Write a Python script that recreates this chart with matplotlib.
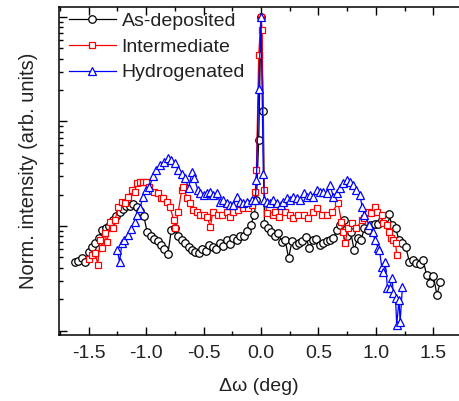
import matplotlib
matplotlib.use("Agg")
import matplotlib.pyplot as plt
from matplotlib.ticker import FixedLocator, NullFormatter, LogLocator, FormatStrFormatter

plt.rcParams['font.family'] = ['Liberation Sans', 'DejaVu Sans']
plt.rcParams['axes.unicode_minus'] = False

# ---------------- data ----------------
x_asdep = [-1.62, -1.59, -1.56, -1.53, -1.50, -1.47, -1.44, -1.41, -1.38, -1.35,
           -1.32, -1.29, -1.26, -1.23, -1.20, -1.17, -1.14, -1.11, -1.08, -1.05,
           -1.02, -0.99, -0.96, -0.93, -0.90, -0.87, -0.84, -0.81, -0.78, -0.75,
           -0.72, -0.69, -0.66, -0.63, -0.60, -0.57, -0.54, -0.51, -0.48, -0.45,
           -0.42, -0.39, -0.36, -0.33, -0.30, -0.27, -0.24, -0.21, -0.18, -0.15,
           -0.12, -0.09, -0.06, -0.04, -0.02, 0.00, 0.02, 0.03, 0.06, 0.09,
           0.12, 0.15, 0.18, 0.21, 0.24, 0.27, 0.30, 0.33, 0.36, 0.39,
           0.42, 0.45, 0.48, 0.51, 0.54, 0.57, 0.60, 0.63, 0.66, 0.69,
           0.72, 0.75, 0.78, 0.81, 0.84, 0.87, 0.90, 0.93, 0.96, 0.99,
           1.02, 1.05, 1.08, 1.11, 1.14, 1.17, 1.20, 1.23, 1.26, 1.29,
           1.32, 1.35, 1.38, 1.41, 1.44, 1.47, 1.50, 1.53, 1.56]
y_asdep = [0.00452, 0.00462, 0.00494, 0.00452, 0.00564, 0.0063, 0.00688, 0.00768, 0.00915, 0.00957,
           0.0100, 0.01141, 0.01247, 0.01362, 0.01455, 0.01554, 0.01554, 0.01624, 0.0152, 0.01392,
           0.01247, 0.00876, 0.00802, 0.00751, 0.00719, 0.00658, 0.00603, 0.0054, 0.00915, 0.00957,
           0.00802, 0.00734, 0.00688, 0.0063, 0.00589, 0.00564, 0.00552, 0.00603, 0.00577, 0.00658,
           0.0063, 0.00603, 0.00688, 0.00644, 0.00734, 0.00673, 0.00768, 0.00734, 0.00802, 0.00802,
           0.00896, 0.01022, 0.01274, 0.01774, 0.0665, 1.0, 0.126, 0.01045, 0.00957, 0.00876,
           0.00802, 0.00857, 0.00703, 0.00734, 0.00494, 0.00719, 0.00658, 0.00688, 0.00719, 0.00785,
           0.00616, 0.00734, 0.00751, 0.00658, 0.00688, 0.00719, 0.00734, 0.00768, 0.00915, 0.01022,
           0.01141, 0.00802, 0.00876, 0.00589, 0.00768, 0.00734, 0.00957, 0.00915, 0.01022, 0.01045,
           0.01045, 0.01141, 0.01193, 0.01303, 0.01022, 0.00957, 0.00734, 0.00688, 0.0063, 0.00452,
           0.00473, 0.00442, 0.00433, 0.00473, 0.0034, 0.00285, 0.00332, 0.00219, 0.00291]

x_inter = [-1.50, -1.47, -1.44, -1.42, -1.40, -1.38, -1.36, -1.34, -1.31, -1.29,
           -1.27, -1.24, -1.21, -1.18, -1.16, -1.12, -1.10, -1.08, -1.05, -1.03,
           -1.00, -0.97, -0.93, -0.90, -0.87, -0.85, -0.82, -0.79, -0.76, -0.75,
           -0.72, -0.69, -0.68, -0.64, -0.62, -0.59, -0.56, -0.53, -0.50, -0.47,
           -0.44, -0.42, -0.37, -0.34, -0.30, -0.27, -0.24, -0.20, -0.16, -0.11,
           -0.08, -0.05, -0.04, -0.02, 0.00, 0.01, 0.025, 0.05, 0.10, 0.12,
           0.16, 0.21, 0.25, 0.28, 0.32, 0.37, 0.41, 0.45, 0.49, 0.53,
           0.57, 0.62, 0.67, 0.70, 0.71, 0.73, 0.76, 0.79, 0.83, 0.88,
           0.90, 0.93, 0.96, 0.99, 1.01, 1.05, 1.06, 1.10, 1.11, 1.13,
           1.15, 1.17, 1.18]
y_inter = [0.00483, 0.00528, 0.00552, 0.00423, 0.00734, 0.00616, 0.00857, 0.00703, 0.01092, 0.00957,
           0.01141, 0.0152, 0.01698, 0.0166, 0.01894, 0.0221, 0.02115, 0.02579, 0.02637, 0.02637,
           0.02637, 0.0236, 0.02115, 0.0207, 0.01853, 0.01853, 0.01698, 0.0152, 0.01141, 0.00957,
           0.01362, 0.0221, 0.0236, 0.01853, 0.0166, 0.01423, 0.01362, 0.01274, 0.01274, 0.0122,
           0.00978, 0.01362, 0.01274, 0.01274, 0.01362, 0.0122, 0.01362, 0.01423, 0.01487, 0.01487,
           0.01588, 0.02115, 0.0344, 0.433, 1.0, 0.751, 0.0221, 0.01332, 0.01274, 0.01362,
           0.0122, 0.01362, 0.01274, 0.01193, 0.01274, 0.01274, 0.01193, 0.01362, 0.01487, 0.01274,
           0.01274, 0.01362, 0.0166, 0.01092, 0.00876, 0.00688, 0.00957, 0.01068, 0.00957, 0.01141,
           0.01193, 0.01362, 0.01332, 0.0152, 0.01362, 0.01274, 0.01068, 0.01022, 0.00876, 0.00768,
           0.00734, 0.00688, 0.00528]

x_hydro = [-1.25, -1.23, -1.21, -1.19, -1.16, -1.13, -1.10, -1.08, -1.05, -1.03,
           -1.00, -0.97, -0.94, -0.91, -0.88, -0.84, -0.81, -0.78, -0.75, -0.72,
           -0.69, -0.66, -0.63, -0.60, -0.58, -0.55, -0.53, -0.50, -0.47, -0.44,
           -0.42, -0.38, -0.36, -0.33, -0.30, -0.27, -0.24, -0.21, -0.18, -0.16,
           -0.12, -0.08, -0.05, -0.04, -0.02, 0.00, 0.02, 0.03, 0.05, 0.08,
           0.10, 0.14, 0.17, 0.19, 0.23, 0.25, 0.28, 0.31, 0.34, 0.37,
           0.40, 0.43, 0.45, 0.49, 0.51, 0.54, 0.57, 0.60, 0.63, 0.66,
           0.69, 0.71, 0.75, 0.77, 0.80, 0.83, 0.86, 0.88, 0.90, 0.94,
           0.97, 0.99, 1.02, 1.03, 1.05, 1.06, 1.08, 1.10, 1.12, 1.14,
           1.15, 1.17, 1.18, 1.20, 1.21, 1.23]
y_hydro = [0.00589, 0.00452, 0.00688, 0.00734, 0.0082, 0.00936, 0.01092, 0.01274, 0.01487, 0.01894,
           0.0221, 0.0236, 0.0301, 0.0344, 0.0384, 0.0410, 0.0447, 0.0428, 0.0401, 0.0344,
           0.0315, 0.0288, 0.0231, 0.0329, 0.0288, 0.0221, 0.0207, 0.0198, 0.0207, 0.02115,
           0.0198, 0.0207, 0.01698, 0.01774, 0.0166, 0.01588, 0.01588, 0.01894, 0.01698, 0.0166,
           0.01698, 0.01774, 0.01774, 0.02756, 0.2046, 1.0, 0.0315, 0.01774, 0.01698, 0.0166,
           0.01774, 0.0166, 0.01588, 0.01698, 0.01853, 0.01774, 0.01894, 0.01853, 0.01774, 0.0207,
           0.01894, 0.0198, 0.01894, 0.0221, 0.02115, 0.02115, 0.0207, 0.02468, 0.01894, 0.0207,
           0.0231, 0.02579, 0.02756, 0.02637, 0.02468, 0.0221, 0.0198, 0.0152, 0.01274, 0.01022,
           0.00876, 0.00734, 0.00616, 0.00589, 0.00405, 0.00363, 0.00452, 0.00255, 0.00255, 0.00318,
           0.00229, 0.00205, 0.00113, 0.00196, 0.00121, 0.00261]

labels = ["As-deposited", "Intermediate", "Hydrogenated"]
xticks = [-1.5, -1.0, -0.5, 0.0, 0.5, 1.0, 1.5]

# ---------------- figure ----------------
fig = plt.figure(figsize=(4.59, 4.01), dpi=100)
ax = fig.add_axes([59/459, (401-335)/401, (459-59)/459, (335-7)/401])

ax.plot(x_asdep, y_asdep, color='black', lw=0.9, marker='o', ms=5.4,
        mfc='white', mec='black', mew=0.9, label=labels[0])
ax.plot(x_inter, y_inter, color='#ff0000', lw=0.9, marker='s', ms=4.6,
        mfc='white', mec='#ff0000', mew=0.9, label=labels[1])
ax.plot(x_hydro, y_hydro, color='#0000ff', lw=0.9, marker='^', ms=5.6,
        mfc='white', mec='#0000ff', mew=0.9, label=labels[2])

ax.set_yscale('log')
ax.set_ylim(9.06e-4, 1.246)
ax.set_xlim(-1.757, 1.722)

ax.xaxis.set_major_locator(FixedLocator(xticks))
ax.xaxis.set_minor_locator(FixedLocator([-1.75, -1.25, -0.75, -0.25, 0.25, 0.75, 1.25]))
ax.xaxis.set_major_formatter(FormatStrFormatter('%.1f'))
ax.yaxis.set_major_locator(LogLocator(base=10, numticks=10))
ax.yaxis.set_minor_locator(LogLocator(base=10, subs=[2, 3, 4, 5, 6, 7, 8, 9], numticks=10))
ax.yaxis.set_major_formatter(NullFormatter())
ax.yaxis.set_minor_formatter(NullFormatter())

ax.tick_params(which='both', direction='in', top=True, right=False, width=1.0,
               labelcolor='#222222')
ax.tick_params(which='major', length=5.5, labelsize=14, pad=7)
ax.tick_params(which='minor', length=3)
ax.spines['right'].set_visible(False)
for s in ['left', 'top', 'bottom']:
    ax.spines[s].set_linewidth(1.1)

ax.set_xlabel("Δω (deg)", fontsize=14, labelpad=12, color='#222222')
ax.set_ylabel("Norm. intensity (arb. units)", fontsize=14.5, labelpad=8, color='#222222')

leg = ax.legend(loc='upper left', bbox_to_anchor=(0.025, 0.985), frameon=False,
                fontsize=14, handlelength=2.4, handletextpad=0.3, labelspacing=0.43,
                borderpad=0, borderaxespad=0)
for t in leg.get_texts():
    t.set_color('#222222')

fig.savefig("out.png", dpi=100)
